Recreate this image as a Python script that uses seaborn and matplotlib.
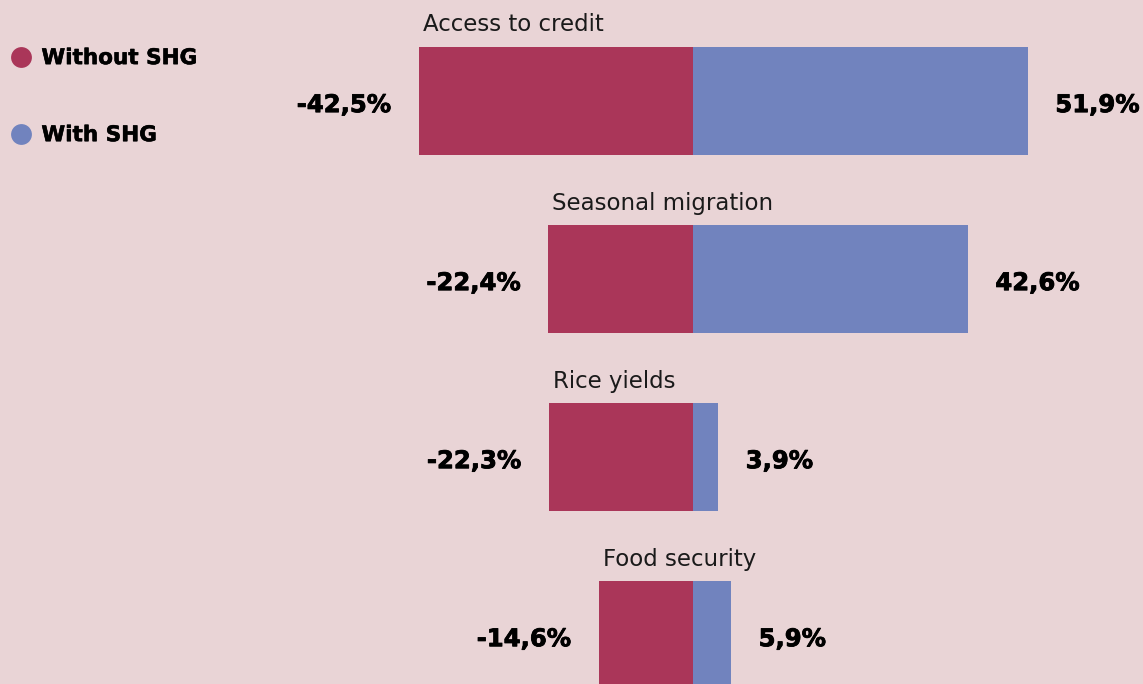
import matplotlib
matplotlib.use("Agg")
import matplotlib.pyplot as plt
import matplotlib.patheffects as pe
from matplotlib.lines import Line2D
import seaborn as sns
import pandas as pd

categories = ["Access to credit", "Seasonal migration", "Rice yields", "Food security"]
without_shg = [-42.5, -22.4, -22.3, -14.6]
with_shg = [51.9, 42.6, 3.9, 5.9]
groups = ["Without SHG", "With SHG"]

BG = "#E9D4D6"
RED = "#AA3659"
BLUE = "#7183BE"

df = pd.DataFrame({
    "category": categories * 2,
    "group": [groups[0]] * len(categories) + [groups[1]] * len(categories),
    "value": without_shg + with_shg,
})

sns.set_theme(style="white")
plt.rcParams["font.family"] = ["DejaVu Sans"]

fig = plt.figure(figsize=(11.43, 6.84), dpi=100, facecolor=BG)
ax = fig.add_axes([0, 0, 1, 1])
ax.set_facecolor(BG)

sns.barplot(data=df, y="category", x="value", hue="group", orient="h",
            dodge=False, palette={groups[0]: RED, groups[1]: BLUE},
            width=0.607, saturation=1, legend=False, ax=ax, linewidth=0)

ax.set_xlim(-107.4, 69.8)
ax.set_ylim(3.275, -0.567)
ax.axis("off")

# thicken the bold value labels a little
heavy = [pe.withStroke(linewidth=0.6, foreground="black")]

bar_half = 0.607 / 2
for i, cat in enumerate(categories):
    neg = without_shg[i]
    pos = with_shg[i]
    # category title above the bar, aligned with the bar's left edge
    ax.annotate(cat, xy=(neg, i - bar_half), xytext=(3, 7.5), textcoords="offset points",
                ha="left", va="bottom", fontsize=16.5, color="#1a1a1a")
    ax.annotate(f"{neg:.1f}%".replace(".", ","), xy=(neg, i), xytext=(-20, -3),
                textcoords="offset points", ha="right", va="center",
                fontsize=17.5, fontweight="bold", color="black", path_effects=heavy)
    ax.annotate(f"{pos:.1f}%".replace(".", ","), xy=(pos, i), xytext=(20, -3),
                textcoords="offset points", ha="left", va="center",
                fontsize=17.5, fontweight="bold", color="black", path_effects=heavy)

handles = [Line2D([0], [0], marker="o", linestyle="", markersize=15,
                  markerfacecolor=c, markeredgewidth=0) for c in (RED, BLUE)]
leg = fig.legend(handles, groups, loc="upper left", bbox_to_anchor=(-0.008, 0.958),
                 frameon=False, handletextpad=0.45, labelspacing=2.65,
                 prop={"size": 15.5, "weight": "bold"}, handlelength=1.0)
for t in leg.get_texts():
    t.set_color("black")
    t.set_path_effects([pe.withStroke(linewidth=0.4, foreground="black")])

fig.savefig("out.png", dpi=100, facecolor=BG)
